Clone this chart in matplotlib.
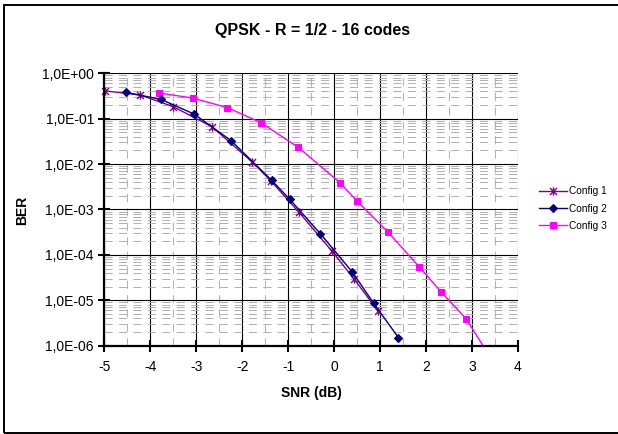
import math
import matplotlib
matplotlib.use("Agg")
import matplotlib.pyplot as plt
from matplotlib.ticker import FixedLocator, FuncFormatter, LogLocator, MultipleLocator, NullFormatter
from matplotlib.patches import Rectangle
from matplotlib.path import Path

plt.rcParams['font.family'] = ['Liberation Sans', 'DejaVu Sans']
plt.rcParams['axes.unicode_minus'] = False
plt.rcParams['lines.scale_dashes'] = False

title = "QPSK - R = 1/2 - 16 codes"
xlabel = "SNR (dB)"
ylabel = "BER"
labels = ["Config 1", "Config 2", "Config 3"]

snr1 = [-4.98, -4.22, -3.50, -2.66, -1.78, -1.38, -0.76, -0.05, 0.44, 0.95]
ber1 = [0.41, 0.333, 0.184, 0.0667, 0.0111, 0.0043, 8.6e-4, 1.22e-4, 2.9e-5, 5.9e-6]

snr2 = [-4.53, -3.77, -3.05, -2.24, -1.36, -0.97, -0.30, 0.395, 0.86, 1.40]
ber2 = [0.38, 0.267, 0.127, 0.0328, 0.0044, 1.7e-3, 2.93e-4, 4.2e-5, 8.6e-6, 1.5e-6]

snr3 = [-3.81, -3.08, -2.32, -1.59, -0.78, 0.126, 0.504, 1.165, 1.85, 2.33, 2.87, 3.4]
ber3 = [0.368, 0.286, 0.175, 0.0817, 0.0234, 0.0039, 1.51e-3, 3.24e-4, 5.5e-5, 1.52e-5, 3.94e-6, 5.5e-7]

xticks = [-5, -4, -3, -2, -1, 0, 1, 2, 3, 4]
yexps = [0, -1, -2, -3, -4, -5, -6]

# Excel-style asterisk marker: an x plus a vertical bar
star_marker = Path([(-1, -1), (1, 1), (-1, 1), (1, -1), (0, -1.2), (0, 1.2)],
                   [Path.MOVETO, Path.LINETO, Path.MOVETO, Path.LINETO, Path.MOVETO, Path.LINETO])

W, H = 618, 434
fig = plt.figure(figsize=(W / 100, H / 100), dpi=100)
fig.patches.append(Rectangle((3.5 / W, 1.5 / H), (W + 5 - 3.5) / W, (432.5 - 4.5) / H,
                             transform=fig.transFigure, fill=False, edgecolor='black',
                             linewidth=1.4, clip_on=False))

ax = fig.add_axes([104.3 / W, 1 - 345.7 / H, (518.0 - 104.3) / W, (345.7 - 73.3) / H])
ax.set_yscale('log')
ax.set_xlim(-5, 4)
ax.set_ylim(1e-6, 1.0)

ax.xaxis.set_major_locator(FixedLocator(xticks))
ax.xaxis.set_major_formatter(FuncFormatter(lambda v, p: "%d" % round(v)))
ax.xaxis.set_minor_locator(MultipleLocator(0.5))
ax.yaxis.set_major_locator(FixedLocator([10.0 ** e for e in yexps]))
ax.yaxis.set_major_formatter(FuncFormatter(lambda v, p: "1,0E%+03d" % round(math.log10(v))))
ax.yaxis.set_minor_locator(LogLocator(base=10, subs=range(2, 10), numticks=20))
ax.yaxis.set_minor_formatter(NullFormatter())

ax.grid(which='major', color='black', linewidth=0.8, linestyle='-', zorder=1)
ax.grid(which='minor', color='#b0b0b0', linewidth=0.7, linestyle=(0, (5.8, 4.6)), zorder=1)
ax.set_axisbelow(True)

for s in ['top', 'right']:
    ax.spines[s].set_visible(False)
for s in ['left', 'bottom']:
    ax.spines[s].set_linewidth(1.6)
    ax.spines[s].set_zorder(5)

ax.tick_params(which='major', direction='inout', length=9, width=1.5, labelsize=10, colors='black')
ax.tick_params(axis='x', which='major', pad=6)
ax.tick_params(axis='y', which='major', pad=3)
ax.tick_params(which='minor', length=0)

ax.plot(snr1, ber1, color='#800080', linewidth=1.0, marker=star_marker, markersize=6,
        markeredgewidth=1.0, label=labels[0], clip_on=False, zorder=3)
ax.plot(snr2, ber2, color='#000080', linewidth=1.0, marker='D', markersize=4.5,
        markeredgewidth=0.8, label=labels[1], clip_on=False, zorder=4)
ax.plot(snr3, ber3, color='#ff00ff', linewidth=1.0, marker='s', markersize=4.8,
        markeredgewidth=0.8, label=labels[2], clip_on=True, zorder=3)

fig.text(313 / W, 1 - 30.7 / H, title, ha='center', va='center', fontsize=11.5, fontweight='bold')
fig.text(311.7 / W, 1 - 393.3 / H, xlabel, ha='center', va='center', fontsize=10, fontweight='bold')
fig.text(21.7 / W, 1 - 210 / H, ylabel, ha='center', va='center', fontsize=10, fontweight='bold',
         rotation=90)

fig.legend(loc='upper left', bbox_to_anchor=(539 / W, 1 - 186.5 / H), frameon=False,
           fontsize=7.3, handlelength=2.75, handletextpad=0.2, labelspacing=0.7,
           borderpad=0, borderaxespad=0)

fig.savefig("out.png", dpi=100)
